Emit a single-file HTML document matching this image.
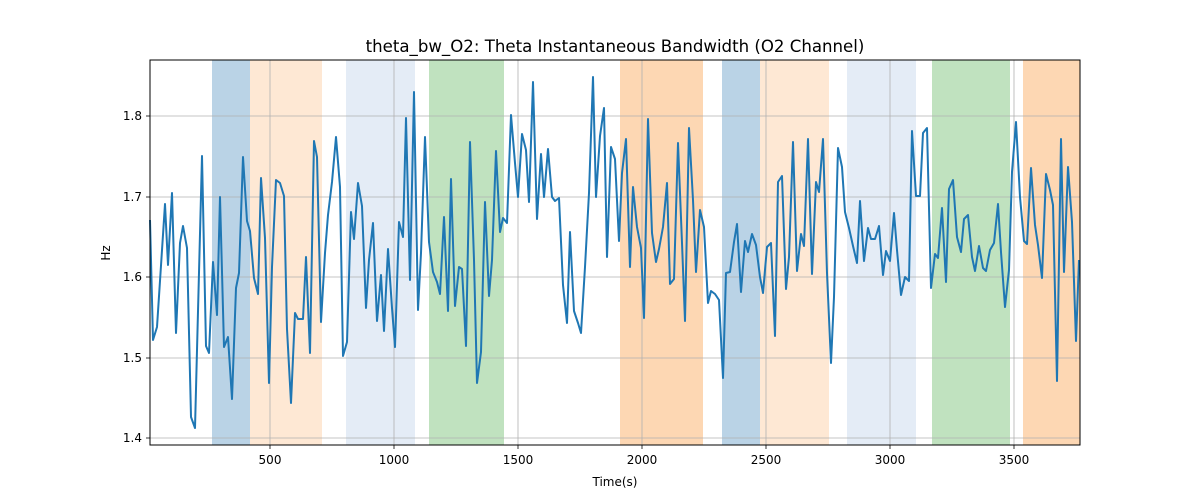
<!DOCTYPE html>
<html><head><meta charset="utf-8"><style>
html,body{margin:0;padding:0;background:#fff;}
svg{display:block;font-family:"DejaVu Sans","Liberation Sans",sans-serif;}
</style></head><body>
<svg width="1200" height="500" viewBox="0 0 1200 500" xmlns="http://www.w3.org/2000/svg">
<rect width="1200" height="500" fill="#fff"/>
<g>
<rect x="212" y="60" width="38" height="385" fill="#bad3e6"/>
<rect x="250" y="60" width="72" height="385" fill="#fee8d4"/>
<rect x="346" y="60" width="69" height="385" fill="#e4ecf6"/>
<rect x="429" y="60" width="75" height="385" fill="#c0e2bf"/>
<rect x="620" y="60" width="83" height="385" fill="#fdd7b3"/>
<rect x="722" y="60" width="38" height="385" fill="#bad3e6"/>
<rect x="760" y="60" width="69" height="385" fill="#fee8d4"/>
<rect x="847" y="60" width="69" height="385" fill="#e4ecf6"/>
<rect x="932" y="60" width="78" height="385" fill="#c0e2bf"/>
<rect x="1023" y="60" width="57" height="385" fill="#fdd7b3"/>
</g>
<g stroke="#b0b0b0" stroke-width="0.8">
<line x1="270" y1="60" x2="270" y2="445"/><line x1="394" y1="60" x2="394" y2="445"/>
<line x1="518" y1="60" x2="518" y2="445"/><line x1="642" y1="60" x2="642" y2="445"/>
<line x1="766" y1="60" x2="766" y2="445"/><line x1="890" y1="60" x2="890" y2="445"/>
<line x1="1014" y1="60" x2="1014" y2="445"/>
<line x1="150" y1="438" x2="1080" y2="438"/><line x1="150" y1="358" x2="1080" y2="358"/>
<line x1="150" y1="277" x2="1080" y2="277"/><line x1="150" y1="197" x2="1080" y2="197"/>
<line x1="150" y1="116" x2="1080" y2="116"/>
</g>
<polyline fill="none" stroke="#1f77b4" stroke-width="2" stroke-linejoin="round" points="150,220 153,340 157,327 165,204 168,265 172,193 176,333 180,243 183,226 187,248 191,417 195,428 202,156 206,346 209,353 213,262 217,315 220,197 224,347 228,337 232,399 236,288 239,273 243,157 247,221 250,231 254,278 258,294 261,178 265,238 269,383 272,267 276,180 280,183 284,196 287,329 291,403 295,313 298,319 303,319 306,257 310,353 314,141 317,157 321,322 325,253 328,215 332,182 336,137 340,187 343,356 347,342 351,212 354,239 358,183 362,206 366,308 369,260 373,223 377,321 381,275 384,331 388,249 392,308 395,347 399,222 403,237 406,118 410,280 414,92 418,310 421,253 425,137 429,242 433,272 437,282 440,294 444,217 448,311 451,179 455,306 459,267 462,269 466,346 470,142 474,260 477,383 481,352 485,202 489,296 492,260 496,151 500,232 503,218 507,223 511,115 515,163 518,197 522,134 526,150 529,202 533,82 537,219 541,154 544,197 548,149 552,197 555,201 559,198 563,285 567,323 570,232 574,311 578,323 581,333 585,267 589,193 593,77 596,197 600,136 604,108 607,257 611,147 615,159 619,241 622,173 626,139 630,267 633,187 637,227 641,248 644,318 648,119 652,233 656,262 659,249 663,227 667,183 670,284 674,279 678,143 682,243 685,321 689,128 693,200 696,272 700,210 704,227 708,303 711,291 715,294 719,300 723,378 726,273 730,272 734,242 737,224 741,292 745,241 748,252 752,234 756,245 760,277 763,293 767,247 771,243 775,336 778,182 782,176 786,289 789,257 793,142 797,271 801,234 804,246 808,139 812,274 816,182 819,192 823,139 827,273 831,363 834,297 838,148 842,167 845,212 849,228 853,246 857,263 860,201 864,261 868,228 871,239 875,239 879,226 883,275 886,251 890,261 894,213 897,250 901,295 905,277 909,281 912,131 916,196 920,196 923,133 927,128 931,288 935,254 938,258 942,208 946,282 949,189 953,180 957,237 961,252 964,219 968,215 972,257 975,271 979,246 983,268 986,271 990,250 994,243 998,204 1001,252 1005,307 1009,270 1012,172 1016,122 1020,197 1024,241 1027,244 1031,168 1035,225 1038,245 1042,278 1046,174 1050,190 1053,205 1057,381 1061,139 1064,272 1068,167 1072,222 1076,341 1079,260"/>
<rect x="150" y="60" width="930" height="385" fill="none" stroke="#000" stroke-width="1"/>
<g stroke="#000" stroke-width="0.8">
<line x1="270" y1="445" x2="270" y2="449"/><line x1="394" y1="445" x2="394" y2="449"/>
<line x1="518" y1="445" x2="518" y2="449"/><line x1="642" y1="445" x2="642" y2="449"/>
<line x1="766" y1="445" x2="766" y2="449"/><line x1="890" y1="445" x2="890" y2="449"/>
<line x1="1014" y1="445" x2="1014" y2="449"/>
<line x1="146" y1="438" x2="150" y2="438"/><line x1="146" y1="358" x2="150" y2="358"/>
<line x1="146" y1="277" x2="150" y2="277"/><line x1="146" y1="197" x2="150" y2="197"/>
<line x1="146" y1="116" x2="150" y2="116"/>
</g>
<g font-size="12" fill="#000" text-anchor="middle">
<text x="270" y="464">500</text><text x="394" y="464">1000</text><text x="518" y="464">1500</text>
<text x="642" y="464">2000</text><text x="766" y="464">2500</text><text x="890" y="464">3000</text>
<text x="1014" y="464">3500</text>
</g>
<g font-size="12" fill="#000" text-anchor="end">
<text x="142" y="442">1.4</text><text x="142" y="362">1.5</text><text x="142" y="281">1.6</text>
<text x="142" y="201">1.7</text><text x="142" y="120">1.8</text>
</g>
<text x="615" y="486" font-size="12" text-anchor="middle">Time(s)</text>
<text x="110" y="253" font-size="12" text-anchor="middle" transform="rotate(-90 110 253)">Hz</text>
<text x="615" y="52" font-size="16.6" text-anchor="middle">theta_bw_O2: Theta Instantaneous Bandwidth (O2 Channel)</text>
</svg>
</body></html>
